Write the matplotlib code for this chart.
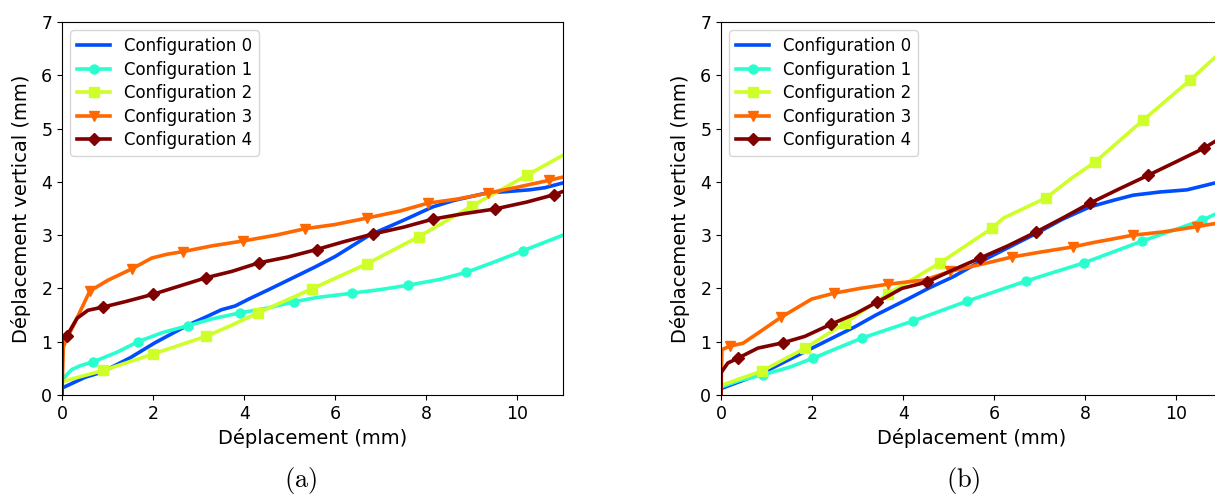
import numpy as np
import matplotlib
matplotlib.use("Agg")
import matplotlib.pyplot as plt

plt.rcParams['mathtext.fontset'] = 'cm'

labels = ["Configuration 0", "Configuration 1", "Configuration 2",
          "Configuration 3", "Configuration 4"]
markers = [None, 'o', 's', 'v', 'D']
x_ticks = [0, 2, 4, 6, 8, 10]
y_ticks = [0, 1, 2, 3, 4, 5, 6, 7]

# ---------- panel (a) ----------
a0_x = [0, 0.5, 0.88, 1.5, 2.04, 2.76, 3.2, 3.5, 3.8, 4.1, 4.52, 5.0, 5.55, 6.0, 6.75, 7.5, 8.14, 8.6, 9.32, 9.8, 10.26, 10.6, 11.0]
a0_y = [0.13, 0.33, 0.43, 0.7, 0.98, 1.31, 1.48, 1.6, 1.67, 1.8, 1.97, 2.17, 2.4, 2.6, 3.0, 3.28, 3.53, 3.65, 3.79, 3.82, 3.85, 3.89, 3.98]
a0_m = []

a1_x = [0, 0.1, 0.22, 0.4, 0.68, 1.2, 1.67, 2.2, 2.76, 3.3, 3.9, 4.5, 5.1, 5.6, 6.36, 7.0, 7.6, 8.3, 8.87, 9.5, 10.13, 11.0]
a1_y = [0.25, 0.38, 0.48, 0.55, 0.62, 0.8, 1.0, 1.17, 1.3, 1.43, 1.54, 1.63, 1.75, 1.83, 1.91, 1.98, 2.06, 2.17, 2.3, 2.5, 2.71, 3.0]
a1_m = [0.68, 1.67, 2.76, 3.9, 5.1, 6.36, 7.6, 8.87, 10.13]

a2_x = [0, 0.9, 2.0, 3.16, 3.7, 4.3, 5.48, 6.69, 7.83, 9.01, 10.22, 11.0]
a2_y = [0.25, 0.46, 0.77, 1.1, 1.3, 1.54, 1.99, 2.46, 2.97, 3.55, 4.13, 4.5]
a2_m = [0.9, 2.0, 3.16, 4.3, 5.48, 6.69, 7.83, 9.01, 10.22]

a3_x = [0, 0.03, 0.1, 0.25, 0.61, 1.0, 1.54, 1.97, 2.3, 2.65, 3.3, 3.97, 4.7, 5.33, 6.0, 6.69, 7.41, 8.03, 8.7, 9.36, 10.0, 10.7, 11.0]
a3_y = [0, 0.9, 1.05, 1.3, 1.95, 2.15, 2.37, 2.57, 2.64, 2.69, 2.8, 2.89, 3.0, 3.12, 3.2, 3.32, 3.45, 3.6, 3.68, 3.79, 3.9, 4.03, 4.09]
a3_m = [0.61, 1.54, 2.65, 3.97, 5.33, 6.69, 8.03, 9.36, 10.7]

a4_x = [0, 0.001, 0.1, 0.33, 0.57, 0.9, 1.38, 2.0, 2.41, 3.16, 3.73, 4.32, 4.96, 5.59, 6.2, 6.82, 7.5, 8.14, 8.8, 9.5, 10.2, 10.81, 11.0]
a4_y = [0, 1.05, 1.1, 1.44, 1.59, 1.65, 1.75, 1.89, 2.0, 2.2, 2.32, 2.48, 2.59, 2.73, 2.88, 3.02, 3.15, 3.3, 3.4, 3.49, 3.62, 3.76, 3.82]
a4_m = [0.1, 0.9, 2.0, 3.16, 4.32, 5.59, 6.82, 8.14, 9.5, 10.81]

# ---------- panel (b) ----------
b0_x = [0, 0.9, 2.0, 2.94, 3.4, 3.75, 4.1, 4.55, 5.1, 5.58, 6.2, 6.94, 7.5, 8.1, 8.6, 9.05, 9.64, 10.23, 10.85, 11.0]
b0_y = [0.12, 0.41, 0.88, 1.28, 1.5, 1.65, 1.8, 2.0, 2.22, 2.45, 2.72, 3.04, 3.3, 3.53, 3.65, 3.75, 3.81, 3.85, 3.98, 4.01]
b0_m = []

b1_x = [0, 0.4, 0.92, 1.5, 2.02, 2.5, 3.1, 4.22, 5.4, 6.7, 7.97, 9.25, 10.56, 11.0]
b1_y = [0.15, 0.27, 0.38, 0.52, 0.69, 0.86, 1.07, 1.39, 1.76, 2.14, 2.48, 2.89, 3.28, 3.45]
b1_m = [0.92, 2.02, 3.1, 4.22, 5.4, 6.7, 7.97, 9.25, 10.56]

b2_x = [0, 0.9, 1.85, 2.72, 3.67, 4.81, 5.95, 6.2, 7.14, 7.7, 8.21, 9.27, 10.3, 10.85, 11.0]
b2_y = [0.18, 0.45, 0.88, 1.35, 1.9, 2.48, 3.13, 3.32, 3.7, 4.07, 4.37, 5.16, 5.91, 6.34, 6.44]
b2_m = [0.9, 1.85, 2.72, 3.67, 4.81, 5.95, 7.14, 8.21, 9.27, 10.3]

b3_x = [0, 0.02, 0.2, 0.48, 0.81, 1.32, 1.99, 2.48, 3.05, 3.67, 4.48, 5.03, 5.7, 6.39, 7.0, 7.73, 8.17, 9.05, 9.7, 10.45, 11.0]
b3_y = [0, 0.85, 0.92, 0.97, 1.16, 1.46, 1.8, 1.91, 2.0, 2.08, 2.16, 2.32, 2.45, 2.59, 2.68, 2.78, 2.86, 3.0, 3.06, 3.16, 3.24]
b3_m = [0.2, 1.32, 2.48, 3.67, 5.03, 6.39, 7.73, 9.05, 10.45]

b4_x = [0, 0.001, 0.15, 0.37, 0.81, 1.36, 1.84, 2.42, 2.94, 3.42, 3.97, 4.52, 5.1, 5.69, 6.3, 6.92, 7.5, 8.1, 8.7, 9.37, 10.0, 10.6, 11.0]
b4_y = [0, 0.42, 0.6, 0.69, 0.88, 0.98, 1.1, 1.33, 1.52, 1.74, 2.0, 2.12, 2.35, 2.57, 2.8, 3.06, 3.32, 3.6, 3.85, 4.12, 4.38, 4.63, 4.84]
b4_m = [0.37, 1.36, 2.42, 3.42, 4.52, 5.69, 6.92, 8.1, 9.37, 10.6]

panel_a = [(a0_x, a0_y, a0_m), (a1_x, a1_y, a1_m), (a2_x, a2_y, a2_m),
           (a3_x, a3_y, a3_m), (a4_x, a4_y, a4_m)]
panel_b = [(b0_x, b0_y, b0_m), (b1_x, b1_y, b1_m), (b2_x, b2_y, b2_m),
           (b3_x, b3_y, b3_m), (b4_x, b4_y, b4_m)]

colors = plt.cm.jet(np.linspace(0.2, 1.0, 5))

W, H = 1215, 495
fig = plt.figure(figsize=(W / 100, H / 100), dpi=100)
ax_a = fig.add_axes([62 / W, 1 - 395 / H, 501 / W, 373 / H])
ax_b = fig.add_axes([721 / W, 1 - 395 / H, 501 / W, 373 / H])


def draw(ax, series):
    for (x, y, m), lab, mk, c in zip(series, labels, markers, colors):
        x = np.asarray(x)
        idx = [int(np.argmin(np.abs(x - v))) for v in m]
        ax.plot(x, y, color=c, lw=2.6, marker=mk, markevery=idx if idx else None,
                markersize=6.5, label=lab)
    ax.set_xlim(0, 11)
    ax.set_ylim(0, 7)
    ax.set_xticks(x_ticks)
    ax.set_yticks(y_ticks)
    ax.tick_params(labelsize=12.5)
    ax.set_xlabel("Déplacement (mm)", fontsize=14)
    ax.set_ylabel("Déplacement vertical (mm)", fontsize=14)
    ax.yaxis.set_label_coords(-0.062, 0.5)
    ax.legend(loc='upper left', fontsize=12, labelspacing=0.33)


draw(ax_a, panel_a)
draw(ax_b, panel_b)

fig.text(301 / W, 1 - 480 / H, r'$\mathrm{(a)}$', fontsize=19, ha='center', va='center')
fig.text(963 / W, 1 - 480 / H, r'$\mathrm{(b)}$', fontsize=19, ha='center', va='center')

fig.savefig("out.png", dpi=100)
